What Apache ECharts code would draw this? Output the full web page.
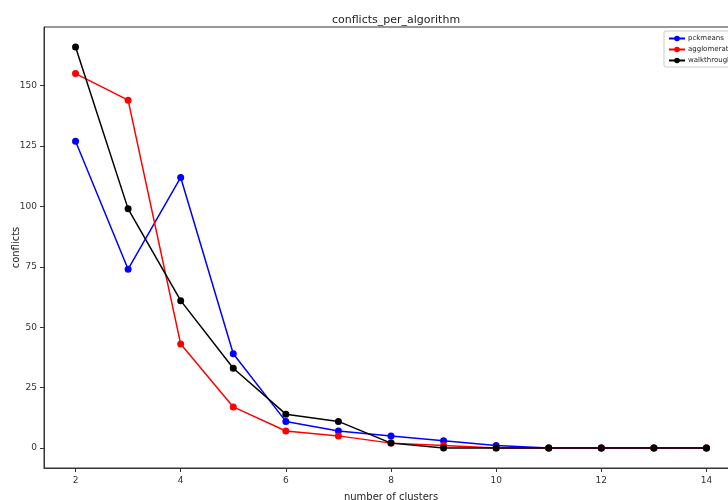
<!DOCTYPE html>
<html>
<head>
<meta charset="utf-8">
<script src="https://cdn.jsdelivr.net/npm/echarts@6/dist/echarts.min.js"></script>
<style>
  html, body { margin: 0; padding: 0; background: #fff; }
  #chart { width: 728px; height: 500px; }
</style>
</head>
<body>
<div id="chart"></div>
<script>
// Number of clusters on the x axis
const clusters = [2, 3, 4, 5, 6, 7, 8, 9, 10, 11, 12, 13, 14];
// Conflicts found by each algorithm
const pckmeans      = [127, 74, 112, 39, 11, 7, 5, 3, 1, 0, 0, 0, 0];
const agglomerative = [155, 144, 43, 17, 7, 5, 2, 1, 0, 0, 0, 0, 0];
const walkthrough   = [166, 99, 61, 33, 14, 11, 2, 0, 0, 0, 0, 0, 0];
// Tick positions
const xTicks = [2, 4, 6, 8, 10, 12, 14];
const yTicks = [0, 25, 50, 75, 100, 125, 150];

const seriesDefs = [
  { name: 'pckmeans', data: pckmeans, color: '#0000ff' },
  { name: 'agglomerative', data: agglomerative, color: '#ff0000' },
  { name: 'walkthrough', data: walkthrough, color: '#000000' }
];

const font = 'DejaVu Sans';
const chart = echarts.init(document.getElementById('chart'), null, { renderer: 'canvas' });

chart.setOption({
  animation: false,
  backgroundColor: '#ffffff',
  title: {
    text: 'conflicts_per_algorithm',
    left: 391,
    textAlign: 'center',
    top: 10,
    textStyle: { fontFamily: font, fontSize: 11, fontWeight: 'normal', color: '#222' }
  },
  legend: {
    orient: 'vertical',
    left: 664,
    top: 31,
    padding: [4, 30, 3, 4],
    itemGap: 4,
    itemWidth: 16,
    itemHeight: 7,
    backgroundColor: '#fff',
    borderColor: '#ccc',
    borderWidth: 1,
    borderRadius: 2,
    textStyle: { fontFamily: font, fontSize: 7, color: '#222', padding: [0, 0, 0, -2] },
    data: seriesDefs.map(s => s.name)
  },
  grid: {
    left: 44,
    top: 27,
    right: -10,
    bottom: 32,
    show: true,
    borderColor: '#333',
    borderWidth: 1,
    containLabel: false,
    outerBoundsMode: 'none'
  },
  xAxis: {
    type: 'value',
    min: 1.4,
    max: 14.6,
    name: 'number of clusters',
    nameLocation: 'middle',
    nameGap: 24,
    nameMoveOverlap: false,
    nameTextStyle: { fontFamily: font, fontSize: 10, color: '#222' },
    axisLine: { show: true, onZero: false, lineStyle: { color: '#333', width: 1 } },
    axisTick: { show: true, length: 4, customValues: xTicks, lineStyle: { color: '#333' } },
    axisLabel: { customValues: xTicks, margin: 8, fontFamily: font, fontSize: 9, color: '#333' },
    splitLine: { show: false }
  },
  yAxis: {
    type: 'value',
    min: -8.3,
    max: 174.3,
    name: 'conflicts',
    nameLocation: 'middle',
    nameGap: 23,
    nameMoveOverlap: false,
    nameRotate: 90,
    nameTextStyle: { fontFamily: font, fontSize: 10, color: '#222' },
    axisLine: { show: true, onZero: false, lineStyle: { color: '#333', width: 1 } },
    axisTick: { show: true, length: 4, customValues: yTicks, lineStyle: { color: '#333' } },
    axisLabel: { customValues: yTicks, margin: 7, fontFamily: font, fontSize: 9, color: '#333' },
    splitLine: { show: false }
  },
  series: seriesDefs.map(s => ({
    name: s.name,
    type: 'line',
    data: clusters.map((c, i) => [c, s.data[i]]),
    symbol: 'circle',
    symbolSize: 7,
    showSymbol: true,
    lineStyle: { color: s.color, width: 1.5 },
    itemStyle: { color: s.color },
    emphasis: { disabled: true }
  }))
});
</script>
</body>
</html>
